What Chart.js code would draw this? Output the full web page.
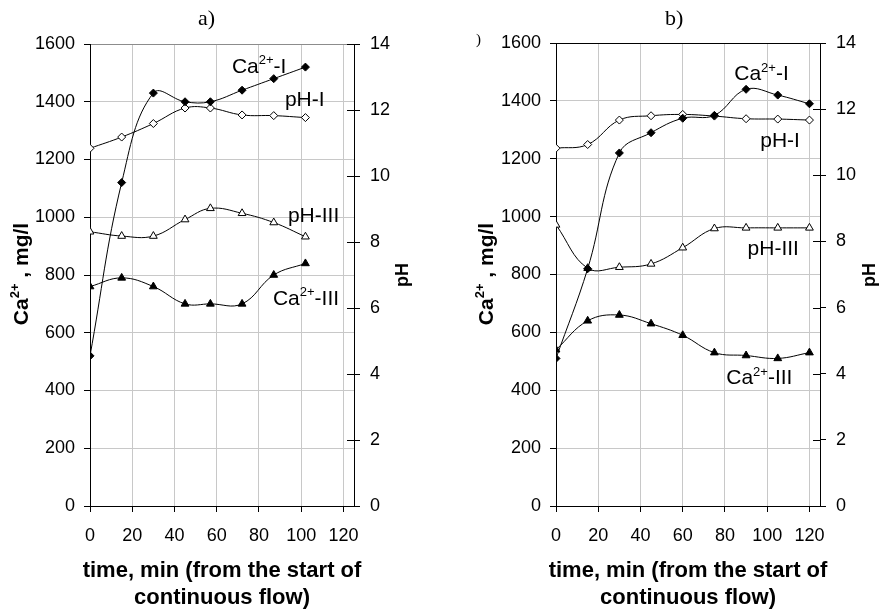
<!DOCTYPE html>
<html lang="en">
<head>
<meta charset="UTF-8">
<title>Ca2+ and pH versus time</title>
<script src="https://cdn.jsdelivr.net/npm/chart.js"></script>
<style>
    body { margin: 0; background: #fff; }
    #wrap { position: relative; width: 880px; height: 612px; }
    canvas { position: absolute; top: 0; }
    #chartA { left: 0; }
    #chartB { left: 440px; }
</style>
</head>
<body>
<div id="wrap">
    <canvas id="chartA" width="440" height="612"></canvas>
    <canvas id="chartB" width="440" height="612"></canvas>
</div>
<script>
// tick values
const xTicks = [0, 20, 40, 60, 80, 100, 120];
const caTicks = [0, 200, 400, 600, 800, 1000, 1200, 1400, 1600];
const phTicks = [0, 2, 4, 6, 8, 10, 12, 14];

// panel a)
const timeA = [0, 15, 30, 45, 57, 72, 87, 102];
const caIA = [520, 1120, 1430, 1400, 1400, 1440, 1480, 1520];
const phIA = [10.84, 11.18, 11.59, 12.06, 12.06, 11.85, 11.83, 11.77];
const phIIIA = [8.31, 8.18, 8.18, 8.68, 9.02, 8.87, 8.59, 8.16];
const caIIIA = [760, 790, 760, 700, 700, 700, 800, 840];

// panel b)
const timeB = [0, 15, 30, 45, 60, 75, 90, 105, 120];
const caIB = [510, 820, 1220, 1290, 1340, 1350, 1440, 1420, 1390];
const phIB = [10.82, 10.93, 11.67, 11.80, 11.84, 11.79, 11.71, 11.70, 11.67];
const phIIIB = [8.50, 7.19, 7.22, 7.32, 7.81, 8.39, 8.41, 8.41, 8.41];
const caIIIB = [540, 640, 660, 630, 590, 530, 520, 510, 530];

const SANS = "'Liberation Sans', Arial, sans-serif";
const SERIF = "'Liberation Serif', 'Times New Roman', serif";

// series labels, anchored in data units (time, Ca2+ axis)
const labelsA = [
    { parts: [['Ca'], ['2+', 1], ['-I']], x: 67.2, y: 1500 },
    { parts: [['pH-I']], x: 92.3, y: 1385 },
    { parts: [['pH-III']], x: 93.7, y: 983 },
    { parts: [['Ca'], ['2+', 1], ['-III']], x: 86.6, y: 696 }
];
const labelsB = [
    { parts: [['Ca'], ['2+', 1], ['-I']], x: 84.4, y: 1471 },
    { parts: [['pH-I']], x: 96.7, y: 1241 },
    { parts: [['pH-III']], x: 90.7, y: 868 },
    { parts: [['Ca'], ['2+', 1], ['-III']], x: 80.6, y: 420 }
];

function series(times, vals, axis, shape, filled, r) {
    return {
        data: times.map((t, i) => ({ x: t, y: vals[i] })),
        yAxisID: axis,
        borderColor: '#000',
        borderWidth: 1,
        tension: 0.4,
        pointStyle: shape,
        pointRadius: r,
        pointBorderWidth: 1,
        pointBorderColor: '#000',
        pointBackgroundColor: filled ? '#000' : '#fff'
    };
}

// text with superscript pieces, drawn at baseline y
function drawRich(ctx, parts, x, y, size, bold, center) {
    const w = bold ? 'bold ' : '';
    const main = w + size + 'px ' + SANS;
    const sup = w + Math.round(size * 0.64) + 'px ' + SANS;
    let total = 0;
    parts.forEach(p => { ctx.font = p[1] ? sup : main; total += ctx.measureText(p[0]).width; });
    let cx = center ? x - total / 2 : x;
    ctx.textAlign = 'left';
    ctx.textBaseline = 'alphabetic';
    parts.forEach(p => {
        ctx.font = p[1] ? sup : main;
        ctx.fillText(p[0], cx, p[1] ? y - size * 0.42 : y);
        cx += ctx.measureText(p[0]).width;
    });
}

function makeChart(id, datasets, g) {
    const decor = {
        id: 'decor',
        afterDraw(chart) {
            const ctx = chart.ctx;
            const a = chart.chartArea;
            const sx = chart.scales.x, sy = chart.scales.y, s1 = chart.scales.y1;
            ctx.save();
            ctx.fillStyle = '#000';
            // panel letter
            ctx.font = '22px ' + SERIF;
            ctx.textAlign = 'left';
            ctx.textBaseline = 'alphabetic';
            ctx.fillText(g.letter, g.letterX, 25);
            if (g.stray) {
                ctx.font = '15px ' + SERIF;
                ctx.fillText(')', 36, 44);
            }
            // inner half of the pH ticks
            ctx.strokeStyle = '#000';
            ctx.lineWidth = 1;
            phTicks.forEach(v => {
                const py = Math.round(s1.getPixelForValue(v)) + 0.5;
                ctx.beginPath();
                ctx.moveTo(a.right - 7, py);
                ctx.lineTo(a.right, py);
                ctx.stroke();
            });
            // x title
            const mid = (a.left + a.right) / 2;
            ctx.font = 'bold 22px ' + SANS;
            ctx.textAlign = 'center';
            ctx.fillText('time, min (from the start of', mid, 577);
            ctx.fillText('continuous flow)', mid, 604);
            // left title
            ctx.save();
            ctx.translate(g.caX, 274);
            ctx.rotate(-Math.PI / 2);
            drawRich(ctx, [['Ca'], ['2+', 1], [' , mg/l']], 0, 0, 21, true, true);
            ctx.restore();
            // right title
            ctx.save();
            ctx.translate(g.phX, 275);
            ctx.rotate(-Math.PI / 2);
            ctx.font = 'bold 18px ' + SANS;
            ctx.textAlign = 'center';
            ctx.fillText('pH', 0, 0);
            ctx.restore();
            // series labels
            g.labels.forEach(l => {
                drawRich(ctx, l.parts, sx.getPixelForValue(l.x), sy.getPixelForValue(l.y), 21, false, false);
            });
            ctx.restore();
        }
    };

    const tickFont = { family: SANS, size: 18 };
    const plain = v => String(v);
    return new Chart(document.getElementById(id), {
        type: 'line',
        data: { datasets },
        options: {
            responsive: false,
            animation: false,
            layout: { padding: { top: g.top, left: 0, right: 0, bottom: 0 } },
            plugins: { legend: { display: false }, tooltip: { enabled: false } },
            scales: {
                x: {
                    type: 'linear',
                    min: 0,
                    max: 125,
                    afterBuildTicks: s => { s.ticks = xTicks.map(v => ({ value: v })); },
                    afterFit: s => { s.height = 106; },
                    ticks: { font: tickFont, color: '#000', padding: 13, maxRotation: 0, callback: plain },
                    grid: {
                        color: c => c.tick && c.tick.value === 0 ? 'rgba(0,0,0,0)' : '#c8c8c8',
                        tickColor: '#000',
                        tickLength: 6
                    },
                    border: { color: '#000', width: 1 }
                },
                y: {
                    position: 'left',
                    min: 0,
                    max: 1600,
                    afterBuildTicks: s => { s.ticks = caTicks.map(v => ({ value: v })); },
                    afterFit: s => { s.width = g.left; },
                    ticks: { font: tickFont, color: '#000', padding: 9, callback: plain },
                    grid: {
                        color: c => {
                            const v = c.tick ? c.tick.value : -1;
                            if (v === 0) return 'rgba(0,0,0,0)';
                            if (v === 1600) return g.topColor;
                            return '#c8c8c8';
                        },
                        tickColor: '#000',
                        tickLength: 6
                    },
                    border: { color: '#000', width: 1 }
                },
                y1: {
                    position: 'right',
                    min: 0,
                    max: 14,
                    afterBuildTicks: s => { s.ticks = phTicks.map(v => ({ value: v })); },
                    afterFit: s => { s.width = g.rightW; },
                    ticks: { font: tickFont, color: '#000', padding: 10, callback: plain },
                    grid: { drawOnChartArea: false, tickColor: '#000', tickLength: 6 },
                    border: { color: '#000', width: 1 }
                }
            }
        },
        plugins: [decor]
    });
}

makeChart('chartA', [
    series(timeA, caIA, 'y', 'rectRot', true, 4),
    series(timeA, phIA, 'y1', 'rectRot', false, 4),
    series(timeA, phIIIA, 'y1', 'triangle', false, 4.5),
    series(timeA, caIIIA, 'y', 'triangle', true, 4.5)
], { top: 44, left: 90, rightW: 86, topColor: '#8c8c8c', letter: 'a)', letterX: 198,
     caX: 28, phX: 408, labels: labelsA, stray: false });

makeChart('chartB', [
    series(timeB, caIB, 'y', 'rectRot', true, 4),
    series(timeB, phIB, 'y1', 'rectRot', false, 4),
    series(timeB, phIIIB, 'y1', 'triangle', false, 4.5),
    series(timeB, caIIIB, 'y', 'triangle', true, 4.5)
], { top: 43, left: 116, rightW: 60, topColor: '#000', letter: 'b)', letterX: 225,
     caX: 53, phX: 435, labels: labelsB, stray: true });
</script>
</body>
</html>
